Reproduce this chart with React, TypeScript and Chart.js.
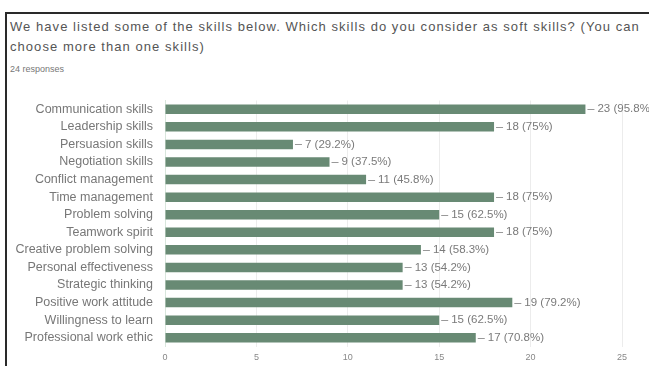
import React, { useEffect, useRef } from "react";
import { Chart, registerables } from "chart.js";

Chart.register(...registerables);

const titleLine1 = "We have listed some of the skills below. Which skills do you consider as soft skills? (You can";
const titleLine2 = "choose more than one skills)";
const responsesText = "24 responses";
const totalResponses = 24;

const categories = [
  "Communication skills",
  "Leadership skills",
  "Persuasion skills",
  "Negotiation skills",
  "Conflict management",
  "Time management",
  "Problem solving",
  "Teamwork spirit",
  "Creative problem solving",
  "Personal effectiveness",
  "Strategic thinking",
  "Positive work attitude",
  "Willingness to learn",
  "Professional work ethic",
];

const counts = [23, 18, 7, 9, 11, 18, 15, 18, 14, 13, 13, 19, 15, 17];

const xTicks = [0, 5, 10, 15, 20, 25];

const BAR_COLOR = "#688a74";
const FONT = "'Liberation Sans', Arial, sans-serif";

function pct(v: number): string {
  const p = Math.round((v / totalResponses) * 1000) / 10;
  return `${v} (${p}%)`;
}

const valueLabelPlugin = {
  id: "valueLabels",
  afterDatasetsDraw(chart: any) {
    const ctx = chart.ctx;
    const meta = chart.getDatasetMeta(0);
    ctx.save();
    ctx.font = `11.5px ${FONT}`;
    ctx.fillStyle = "#7a7a7a";
    ctx.strokeStyle = "#999";
    ctx.lineWidth = 1;
    ctx.textBaseline = "middle";
    ctx.textAlign = "left";
    meta.data.forEach((bar: any, i: number) => {
      const x = bar.x;
      const y = bar.y;
      ctx.beginPath();
      ctx.moveTo(x + 2, Math.round(y) + 0.5);
      ctx.lineTo(x + 9, Math.round(y) + 0.5);
      ctx.stroke();
      ctx.fillText(pct(counts[i]), x + 12, y);
    });
    ctx.restore();
  },
};

export default function App() {
  const canvasRef = useRef<HTMLCanvasElement | null>(null);

  useEffect(() => {
    if (!canvasRef.current) return;
    const chart = new Chart(canvasRef.current, {
      type: "bar",
      data: {
        labels: categories,
        datasets: [
          {
            data: counts,
            backgroundColor: BAR_COLOR,
            borderWidth: 0,
            barPercentage: 0.54,
            categoryPercentage: 1,
          },
        ],
      },
      options: {
        indexAxis: "y",
        animation: false,
        responsive: false,
        maintainAspectRatio: false,
        layout: { padding: { top: 0, right: 27, bottom: 0, left: 0 } },
        plugins: {
          legend: { display: false },
          tooltip: { enabled: false },
        },
        scales: {
          x: {
            min: 0,
            max: 25,
            afterBuildTicks: (scale: any) => {
              scale.ticks = xTicks.map((v) => ({ value: v }));
            },
            afterFit: (scale: any) => {
              scale.height = 19;
            },
            grid: {
              color: "#ececec",
              drawTicks: false,
            },
            border: { display: false },
            ticks: {
              padding: 6,
              color: "#888",
              font: { size: 9, family: FONT },
            },
          },
          y: {
            afterFit: (scale: any) => {
              scale.width = 165;
            },
            grid: { display: false, drawTicks: false },
            border: { display: true, color: "#d8e6dc", width: 1 },
            ticks: {
              padding: 12,
              color: "#777",
              autoSkip: false,
              font: { size: 12.5, family: FONT },
            },
          },
        },
      },
      plugins: [valueLabelPlugin],
    } as any);
    return () => chart.destroy();
  }, []);

  return (
    <div
      style={{
        position: "absolute",
        left: 0,
        top: 0,
        width: 649,
        height: 366,
        background: "#fff",
        overflow: "hidden",
      }}
    >
      <div
        style={{
          position: "absolute",
          left: 5,
          top: 12,
          width: 700,
          height: 400,
          borderLeft: "2px solid #2a2a2a",
          borderTop: "2px solid #2a2a2a",
        }}
      />
      <div
        style={{
          position: "absolute",
          left: 10,
          top: 17,
          fontFamily: FONT,
          fontSize: 13,
          letterSpacing: "1.05px",
          lineHeight: "20px",
          color: "#555",
          whiteSpace: "nowrap",
        }}
      >
        {titleLine1}
        <br />
        {titleLine2}
      </div>
      <div
        style={{
          position: "absolute",
          left: 10,
          top: 64,
          fontFamily: FONT,
          fontSize: 9,
          color: "#777",
          whiteSpace: "nowrap",
        }}
      >
        {responsesText}
      </div>
      <canvas
        ref={canvasRef}
        width={649}
        height={285}
        style={{ position: "absolute", left: 0, top: 81, width: 649, height: 285 }}
      />
    </div>
  );
}
